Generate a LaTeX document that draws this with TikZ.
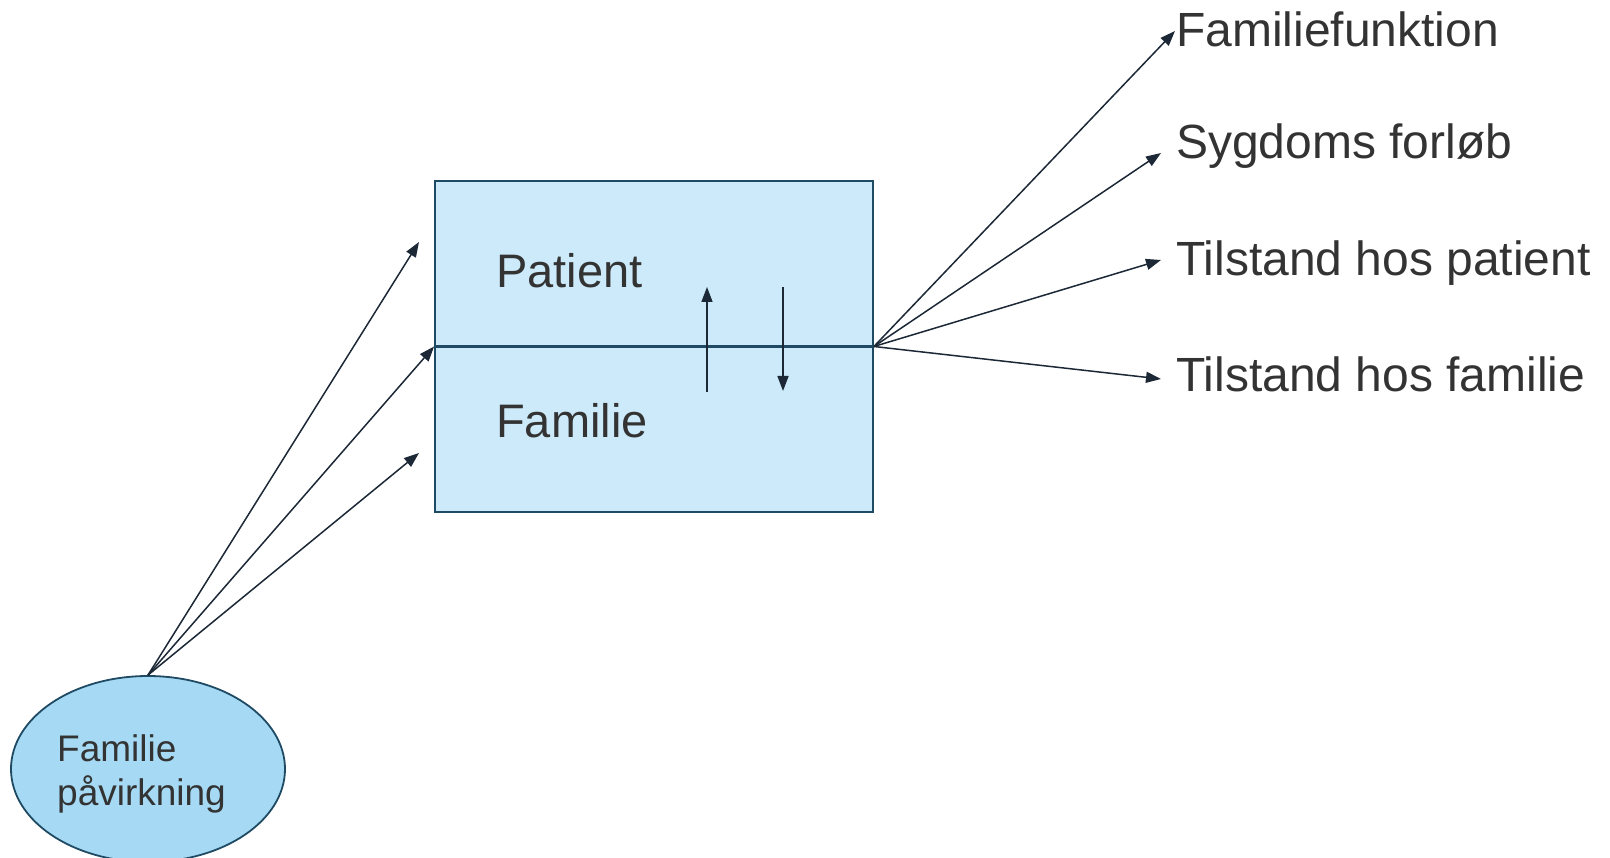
\documentclass[tikz,border=0pt]{standalone}
\usepackage{fontspec}
\setmainfont{Liberation Sans}
\usetikzlibrary{arrows.meta,shapes.geometric}
\definecolor{boxfill}{HTML}{CCEAF9}
\definecolor{ellfill}{HTML}{A6DAF4}
\definecolor{edgec}{HTML}{1F4A63}
\definecolor{arr}{HTML}{1C2836}
\definecolor{txt}{HTML}{333333}
\begin{document}
\begin{tikzpicture}[x=1pt,y=-1pt,
  conn/.style={draw=arr, line width=1.5pt, -{Triangle[length=15pt,width=11pt]}},
  lbl/.style={anchor=base west, inner sep=0pt, text=txt, font=\fontsize{47}{56}\selectfont},
  rlbl/.style={anchor=base west, inner sep=0pt, text=txt, font=\fontsize{48}{56}\selectfont},
  small/.style={anchor=base west, inner sep=0pt, text=txt, font=\fontsize{37}{44}\selectfont},
  shapeline/.style={draw=edgec, line width=1.8pt}]
\useasboundingbox (0,0) rectangle (1610,858);
% ellipse
\node[shapeline, fill=ellfill, ellipse, minimum width=274pt, minimum height=186pt, inner sep=0pt] (infl) at (148,769) {};
\node[small] (e1) at (57,761) {Familie};
\node[small] (e2) at (57,805) {påvirkning};
% box
\node[shapeline, fill=boxfill, rectangle, minimum width=438pt, minimum height=331pt, inner sep=0pt] (box) at (654,346.5) {};
\draw[draw=edgec, line width=2.2pt] (box.west) -- (box.east);
\node[lbl] (pat) at (496,288) {Patient};
\node[lbl] (fam) at (496,438) {Familie};
% inner arrows
\coordinate (u1) at (707,392);
\coordinate (u2) at (707,287);
\coordinate (d1) at (783,287);
\coordinate (d2) at (783,391);
\draw[conn] (u1) -- (u2);
\draw[conn] (d1) -- (d2);
% left arrows
\coordinate (a1) at (419,242);
\coordinate (a3) at (419,453);
\draw[conn] (infl.north) -- (a1);
\draw[conn] (infl.north) -- (box.west);
\draw[conn] (infl.north) -- (a3);
% right labels
\node[rlbl] (o1) at (1176,47) {Familiefunktion};
\node[rlbl] (o2) at (1176,159) {Sygdoms forløb};
\node[rlbl] (o3) at (1176,276) {Tilstand hos patient};
\node[rlbl] (o4) at (1176,392) {Tilstand hos familie};
\coordinate (r1) at (1175,31);
\coordinate (r2) at (1161,153);
\coordinate (r3) at (1161,260);
\coordinate (r4) at (1161,379);
\draw[conn] (box.east) -- (r1);
\draw[conn] (box.east) -- (r2);
\draw[conn] (box.east) -- (r3);
\draw[conn] (box.east) -- (r4);
\end{tikzpicture}
\end{document}
